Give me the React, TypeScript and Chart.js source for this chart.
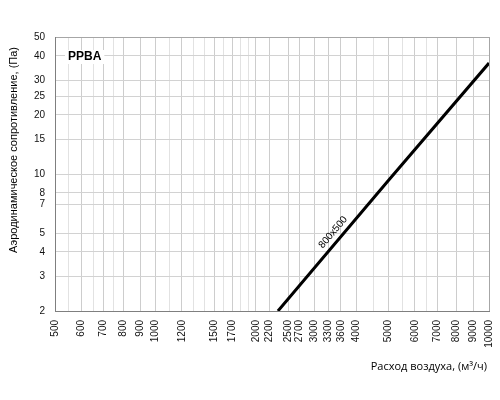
import React, { useEffect, useRef } from 'react';
import { Chart, registerables } from 'chart.js';

Chart.register(...registerables);

// air flow (m3/h) and pressure drop (Pa)
const airflow = [2330, 5000, 10000];
const pressure = [2, 9.3, 36.8];
const seriesLabel = '800x500';
const chartTitle = 'PPBA';

// vertical grid lines and the ones that carry a label
const xGridValues = [
    500, 550, 600, 650, 700, 750, 800, 900, 1000, 1100, 1200, 1300, 1400, 1500, 1600, 1700, 1800, 1900,
    2000, 2200, 2500, 2700, 3000, 3300, 3600, 4000, 4500, 5000, 5500, 6000, 6500, 7000, 8000, 9000, 10000
];
const xTickLabels = [
    500, 600, 700, 800, 900, 1000, 1200, 1500, 1700, 2000, 2200, 2500, 2700, 3000, 3300, 3600, 4000,
    5000, 6000, 7000, 8000, 9000, 10000
];
const yTickValues = [2, 3, 4, 5, 7, 8, 10, 15, 20, 25, 30, 40, 50];

const xTitle = 'Расход воздуха, (м³/ч)';
const yTitle = 'Аэродинамическое сопротивление, (Па)';

const FONT = '"Liberation Sans", Arial, sans-serif';

const decorations = {
    id: 'decorations',
    afterDatasetsDraw(chart: any) {
        const { ctx, chartArea } = chart;
        ctx.save();

        // title box in the upper left corner
        ctx.font = `bold 12px ${FONT}`;
        const tw = ctx.measureText(chartTitle).width;
        const tx = chartArea.left + 13;
        const ty = chartArea.top + 20;
        ctx.fillStyle = '#ffffff';
        ctx.fillRect(tx - 3, ty - 7, tw + 6, 14);
        ctx.fillStyle = '#000000';
        ctx.textBaseline = 'middle';
        ctx.textAlign = 'left';
        ctx.fillText(chartTitle, tx, ty);

        // series name written along the line
        const pts = chart.getDatasetMeta(0).data;
        const a = pts[0];
        const b = pts[pts.length - 1];
        const ang = Math.atan2(b.y - a.y, b.x - a.x);
        const t = 0.294;
        const cx = a.x + (b.x - a.x) * t + Math.sin(ang) * 9;
        const cy = a.y + (b.y - a.y) * t - Math.cos(ang) * 9;
        ctx.translate(cx, cy);
        ctx.rotate(ang);
        ctx.font = `10px ${FONT}`;
        ctx.textAlign = 'center';
        ctx.fillText(seriesLabel, 0, 0);
        ctx.restore();

        // axis titles
        ctx.save();
        ctx.fillStyle = '#000000';
        ctx.textBaseline = 'middle';
        ctx.font = '11px "Open Sans", sans-serif';
        ctx.textAlign = 'right';
        ctx.fillText(xTitle, chartArea.right - 2, 367);
        ctx.translate(14, 150);
        ctx.rotate(-Math.PI / 2);
        ctx.textAlign = 'center';
        ctx.font = `11px ${FONT}`;
        ctx.fillText(yTitle, 0, 0);
        ctx.restore();
    }
};

const App = () => {
    const chartRef = useRef<HTMLCanvasElement>(null);
    const chartInstance = useRef<Chart | null>(null);

    useEffect(() => {
        if (!chartRef.current) return;
        const ctx = chartRef.current.getContext('2d');
        if (!ctx) return;
        if (chartInstance.current) chartInstance.current.destroy();

        chartInstance.current = new Chart(ctx, {
            type: 'line',
            data: {
                datasets: [
                    {
                        label: seriesLabel,
                        data: airflow.map((x, i) => ({ x, y: pressure[i] })),
                        borderColor: '#000000',
                        borderWidth: 3,
                        pointRadius: 0,
                        tension: 0
                    }
                ]
            },
            options: {
                animation: false,
                responsive: true,
                maintainAspectRatio: false,
                layout: { padding: { top: 37, right: 11, left: 0, bottom: 0 } },
                plugins: {
                    legend: { display: false },
                    tooltip: { enabled: false }
                },
                scales: {
                    x: {
                        type: 'logarithmic',
                        min: 500,
                        max: 10000,
                        afterBuildTicks: (scale: any) => {
                            scale.ticks = xGridValues.map((v) => ({ value: v }));
                        },
                        afterFit: (scale: any) => {
                            scale.height = 89;
                            scale.paddingLeft = 0;
                            scale.paddingRight = 0;
                        },
                        ticks: {
                            autoSkip: false,
                            minRotation: 90,
                            maxRotation: 90,
                            padding: 9,
                            color: '#111111',
                            font: { family: FONT, size: 10 },
                            callback: (v: any) => (xTickLabels.includes(Number(v)) ? String(v) : '')
                        },
                        grid: {
                            drawTicks: false,
                            color: (c: any) =>
                                c.tick && c.tick.value === 10000
                                    ? '#a6a6a6'
                                    : xTickLabels.includes(c.tick?.value)
                                    ? '#cdcdcd'
                                    : '#e2e2e2'
                        },
                        border: { color: '#7f7f7f', width: 1 }
                    },
                    y: {
                        type: 'logarithmic',
                        min: 2,
                        max: 50,
                        afterBuildTicks: (scale: any) => {
                            scale.ticks = yTickValues.map((v) => ({ value: v }));
                        },
                        afterFit: (scale: any) => {
                            scale.width = 55;
                            scale.paddingTop = 0;
                            scale.paddingBottom = 0;
                        },
                        ticks: {
                            autoSkip: false,
                            padding: 10,
                            color: '#111111',
                            font: { family: FONT, size: 10 },
                            callback: (v: any) => String(v)
                        },
                        grid: {
                            drawTicks: false,
                            color: (c: any) => (c.tick && c.tick.value === 50 ? '#a6a6a6' : '#d2d2d2')
                        },
                        border: { color: '#7f7f7f', width: 1 }
                    }
                }
            },
            plugins: [decorations]
        });

        return () => {
            if (chartInstance.current) {
                chartInstance.current.destroy();
                chartInstance.current = null;
            }
        };
    }, []);

    return (
        <div style={{ position: 'fixed', left: 0, top: 0, width: 500, height: 400, background: '#ffffff' }}>
            <canvas ref={chartRef}></canvas>
        </div>
    );
};

export default App;
